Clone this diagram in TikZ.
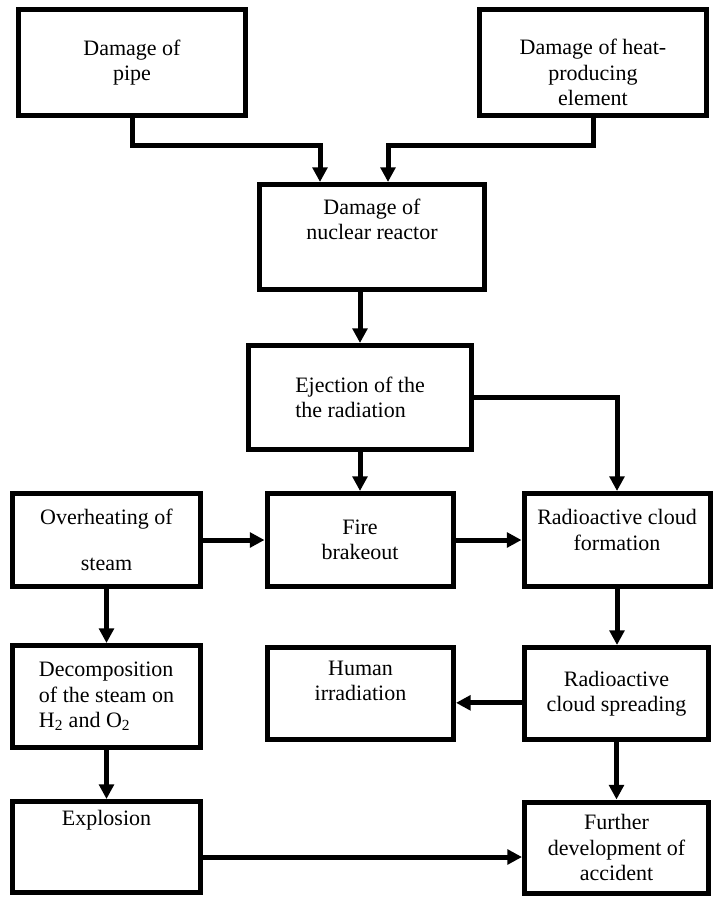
\documentclass[tikz,border=0pt]{standalone}
\usepackage{fontspec}
\setmainfont{Liberation Serif}
\usetikzlibrary{arrows.meta,positioning,calc}

\begin{document}
\begin{tikzpicture}[x=0.75pt,y=0.75pt,
  box/.style={draw,line width=3.75pt,inner sep=2pt,align=center,
    font=\fontsize{16.5}{19}\selectfont,minimum width=141pt,minimum height=69.75pt},
  wide/.style={minimum width=170.25pt,minimum height=79.5pt},
  arr/.style={line width=3.75pt,-{Triangle[length=11pt,width=11pt]}}]
% page
\fill[white] (0,0) rectangle (716,-899);

% causes
\node[box,wide] (pipe) at (132,-62.5) {Damage of\\pipe};
\node[box,wide,text height=64.5pt] (heat) at (593,-62.5) {Damage of heat-\\producing\\element};
\node[box,wide,minimum width=168.75pt,minimum height=78.75pt,text depth=27pt] (reactor) at (372,-237) {Damage of\\nuclear reactor};
\node[box,wide,minimum width=167.25pt,minimum height=78pt,align=left] (eject) at (360,-397.5) {Ejection of the\\the radiation};

% consequences
\node[box] (steam) at (106.5,-540) {Overheating of\\[16pt]steam};
\node[box,minimum width=139.5pt] (fire) at (360,-540) {Fire\\brakeout};
\node[box,minimum width=139.5pt,text depth=15pt] (cloud) at (617,-540) {Radioactive cloud\\formation};
\node[box,minimum height=76.5pt,align=left] (decomp) at (106.5,-696.5) {Decomposition\\of the steam on\\H\textsubscript{2} and O\textsubscript{2}};
\node[box,minimum width=139.5pt,minimum height=69pt,text depth=19.5pt] (human) at (360.5,-693.5) {Human\\irradiation};
\node[box,minimum width=138pt,minimum height=69pt] (spread) at (616.5,-693.5) {Radioactive\\cloud spreading};
\node[box,minimum height=68.25pt,text depth=44pt] (expl) at (106.5,-847) {Explosion};
\node[box,minimum width=138pt,minimum height=68.25pt] (further) at (616.5,-847.5) {Further\\development of\\accident};

% arrows
\draw[arr] (pipe.south) -- ++(0,-27) -| ([xshift=-39pt]reactor.north);
\draw[arr] (heat.south) -- ++(0,-27) -| ([xshift=12pt]reactor.north);
\draw[arr] (eject.north |- reactor.south) -- (eject.north);
\draw[arr] (eject.south) -- (fire.north);
\draw[arr] (eject.east) -| (cloud.north);
\draw[arr] (steam) -- (fire);
\draw[arr] (fire) -- (cloud);
\draw[arr] (steam) -- (decomp);
\draw[arr] (decomp) -- (expl);
\draw[arr] (cloud.south) -- (cloud.south |- spread.north);
\draw[arr] ([yshift=-7pt]spread.west) -- ([yshift=-7pt]spread.west -| human.east);
\draw[arr] (spread.south) -- (spread.south |- further.north);
\draw[arr] ([yshift=-7.5pt]expl.east) -- ([yshift=-7.5pt]expl.east -| further.west);
\end{tikzpicture}
\end{document}
